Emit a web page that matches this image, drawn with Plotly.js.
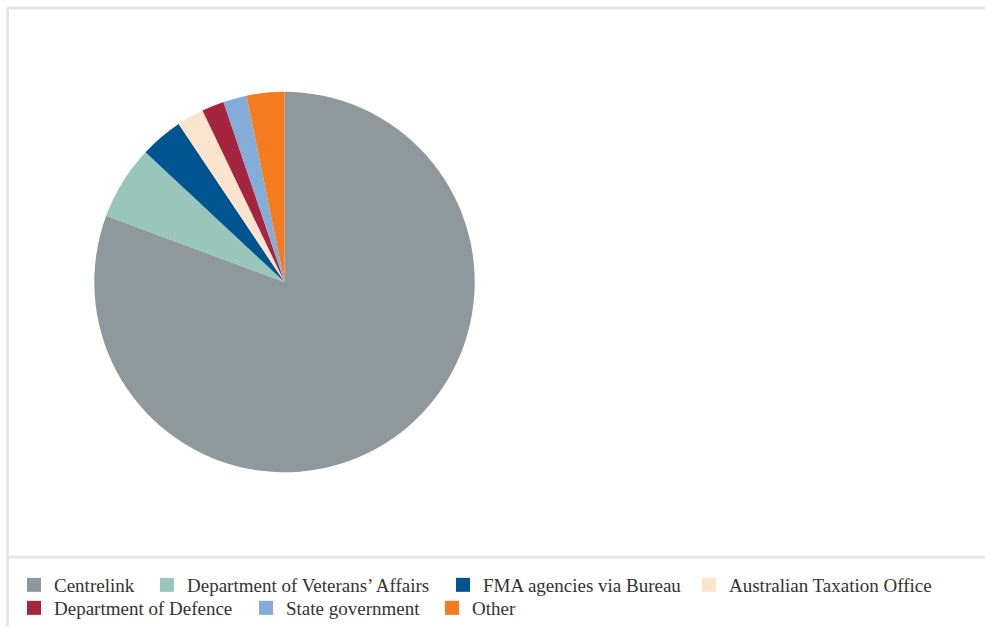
<!DOCTYPE html>
<html>
<head>
<meta charset="utf-8">
<script src="https://cdn.plot.ly/plotly-3.0.1.min.js"></script>
<style>html,body{margin:0;padding:0;background:#fff;}#chart{width:985px;height:627px;}</style>
</head>
<body>
<div id="chart"></div>
<script>
const categories = ["Centrelink", "Department of Veterans’ Affairs", "FMA agencies via Bureau", "Australian Taxation Office", "Department of Defence", "State government", "Other"];
const values = [80.7, 6.3, 3.65, 2.3, 1.9, 2.0, 3.2];
const colors = ["#8F989C", "#99C6BA", "#00548F", "#FDE4CE", "#A6253E", "#84ACD9", "#F47B20"];

const W = 985, H = 627;
const px = x => x / W;
const py = y => 1 - y / H;
const borderColor = "#e6e6e6";
const legendFont = { family: "Liberation Serif, serif", size: 19, color: "#333333" };

// legend entry placement (pixels): left edge of legend box, row centre
const legendPos = [[14, 585], [147, 585], [443, 585], [689, 585], [14, 609], [246, 609], [432, 609]];

const pie = {
  type: "pie",
  labels: categories,
  values: values,
  marker: { colors: colors, line: { width: 0 } },
  sort: false,
  direction: "clockwise",
  rotation: 0,
  textinfo: "none",
  hoverinfo: "label+percent",
  showlegend: false,
  domain: { x: [px(94), px(475)], y: [py(473), py(92)] }
};

const legendName = i => (i === 0 ? "legend" : "legend" + (i + 1));

const legendTraces = categories.map((c, i) => ({
  type: "scatter",
  mode: "markers",
  x: [null], y: [null],
  name: c,
  marker: { symbol: "square", size: 14, color: colors[i] },
  showlegend: true,
  legend: legendName(i),
  hoverinfo: "skip"
}));

const layout = {
  width: W, height: H,
  margin: { l: 0, r: 0, t: 0, b: 0 },
  paper_bgcolor: "#ffffff",
  plot_bgcolor: "rgba(0,0,0,0)",
  xaxis: { visible: false, fixedrange: true },
  yaxis: { visible: false, fixedrange: true },
  showlegend: true,
  shapes: [
    { type: "line", xref: "paper", yref: "paper", x0: px(7), x1: 1, y0: py(8), y1: py(8), line: { color: borderColor, width: 3 } },
    { type: "line", xref: "paper", yref: "paper", x0: px(7.5), x1: px(7.5), y0: py(8), y1: 0, line: { color: borderColor, width: 3 } },
    { type: "line", xref: "paper", yref: "paper", x0: px(7), x1: 1, y0: py(558), y1: py(558), line: { color: borderColor, width: 3 } }
  ]
};

legendPos.forEach((p, i) => {
  layout[legendName(i)] = {
    orientation: "h",
    xanchor: "left",
    yanchor: "middle",
    x: px(p[0]),
    y: py(p[1]),
    font: legendFont,
    bgcolor: "rgba(0,0,0,0)",
    itemclick: false
  };
});

Plotly.newPlot("chart", [pie].concat(legendTraces), layout, { displayModeBar: false, staticPlot: true });
</script>
</body>
</html>
